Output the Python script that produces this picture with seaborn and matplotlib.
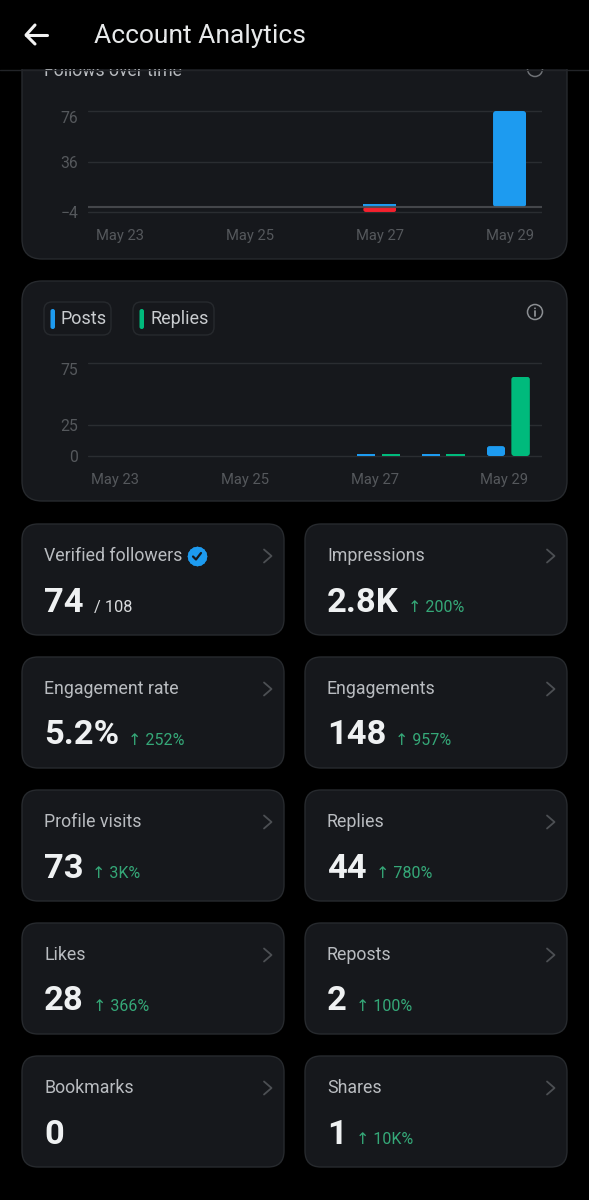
import matplotlib
matplotlib.use("Agg")
import matplotlib.pyplot as plt
import pandas as pd
import seaborn as sns
from matplotlib.patches import Circle, FancyBboxPatch, Rectangle
from matplotlib.transforms import Affine2D, IdentityTransform

W, H = 589, 1200

days = ["May 23", "May 24", "May 25", "May 26", "May 27", "May 28", "May 29"]
tick_days = ["May 23", "May 25", "May 27", "May 29"]

follows = [0, 0, 0, 0, 2, 0, 76]
unfollows = [0, 0, 0, 0, -4, 0, 0]
follow_ticks = [-4, 36, 76]

posts = [0, 0, 0, 0, 2, 2, 8]
replies = [0, 0, 0, 0, 2, 2, 64]
post_ticks = [0, 25, 75]

metric_titles = ["Verified followers", "Impressions", "Engagement rate", "Engagements",
                 "Profile visits", "Replies", "Likes", "Reposts", "Bookmarks", "Shares"]
metric_values = ["74", "2.8K", "5.2%", "148", "73", "44", "28", "2", "0", "1"]
metric_deltas = ["/ 108", "↑ 200%", "↑ 252%", "↑ 957%", "↑ 3K%", "↑ 780%", "↑ 366%", "↑ 100%", "", "↑ 10K%"]

BG = "#000000"
CARD = "#16181c"
BORDER = "#272a2e"
GRID = "#2a2d31"
BLUE = "#1d9bf0"
GREEN = "#00ba7c"
RED = "#f4212e"
TICK = "#55585c"
LABEL = "#b9bcc0"
DELTA = "#35a878"

sns.set_theme(style="dark", rc={"figure.facecolor": BG, "axes.facecolor": "none", "savefig.facecolor": BG})
plt.rcParams["font.family"] = ["Roboto", "DejaVu Sans"]

fig = plt.figure(figsize=(W / 100, H / 100), dpi=100)

ui = fig.add_axes([0, 0, 1, 1], zorder=0)
ui.set_xlim(0, W)
ui.set_ylim(H, 0)
ui.axis("off")


def rounded(x0, y0, x1, y1, r, fc, ec, z=1, lw=1.0):
    ui.add_patch(FancyBboxPatch((x0, y0), x1 - x0, y1 - y0, boxstyle="round,pad=0,rounding_size=%s" % r,
                                fc=fc, ec=ec, lw=lw, zorder=z))


def chart_axes(top, bottom):
    return fig.add_axes([88 / W, 1 - bottom / H, 454 / W, (bottom - top) / H], zorder=2)


def style_chart(ax, yticks, ylim, xlim, xshift, top_shift, pad):
    ax.set_xlim(*xlim)
    ax.set_ylim(*ylim)
    ax.set_xticks([days.index(d) for d in tick_days], tick_days)
    ax.set_yticks(yticks, [str(v).replace("-", "\u2212") for v in yticks])
    ax.set_xlabel("")
    ax.set_ylabel("")
    ax.tick_params(axis="x", length=0, pad=pad, labelsize=10.6, labelcolor=TICK)
    ax.tick_params(axis="y", length=0, pad=7, labelsize=11.3, labelcolor=TICK)
    ax.grid(axis="y", color=GRID, lw=1.0)
    ax.grid(axis="x", visible=False)
    ax.set_axisbelow(True)
    sns.despine(ax=ax, left=True, bottom=True)
    for lab in ax.get_xticklabels():
        lab.set_transform(lab.get_transform() + Affine2D().translate(xshift, 0))
    for lab in ax.get_yticklabels():
        if lab.get_text() == str(yticks[-1]):
            lab.set_transform(lab.get_transform() + Affine2D().translate(0, -top_shift))


def round_bars(ax, r):
    # round the seaborn bars by clipping them, keeps the real bar patches
    for bar in ax.patches:
        box = bar.get_window_extent()
        if box.height < 3:
            continue
        rr = min(r, box.height / 2)
        clip = FancyBboxPatch((box.x0, box.y0), box.width, box.height,
                              boxstyle="round,pad=0,rounding_size=%s" % rr)
        clip.set_transform(IdentityTransform())
        bar.set_clip_path(clip.get_path(), IdentityTransform())


# top card, runs under the header
rounded(22, 20, 567, 259, 20, CARD, BORDER)
ui.text(44, 71, "Follows over time", color=LABEL, fontsize=12.7, va="center", zorder=2)
ui.add_patch(Circle((535, 69), 7.5, fc="none", ec="#6f7276", lw=1.1, zorder=2))

ui.add_patch(Rectangle((0, 0), W, 69, fc=BG, ec="none", zorder=5))
ui.plot([0, W], [69.5, 69.5], color="#222428", lw=1, zorder=6)
ui.plot([26, 47], [35, 35], color="#f2f2f2", lw=2.2, zorder=6, solid_capstyle="round")
ui.plot([35, 26, 35], [25, 35, 44], color="#f2f2f2", lw=2.2, zorder=6, solid_capstyle="round")
ui.text(94, 36.5, "Account Analytics", color="#e7e9ea", fontsize=19, va="center", zorder=6)

ax1 = chart_axes(108.5, 214.5)
sns.barplot(x=days, y=follows, color=BLUE, saturation=1, width=0.51, linewidth=0, ax=ax1, zorder=3)
sns.barplot(x=days, y=unfollows, color=RED, saturation=1, width=0.51, linewidth=0, ax=ax1, zorder=3)
style_chart(ax1, follow_ticks, (-6, 78), (-0.5, 6.5), 0, 6, 10.5)
ax1.axhline(0, color="#4a4c50", lw=1.5, alpha=0.9, zorder=4)
round_bars(ax1, 3)

# second card
rounded(22, 281, 567, 501, 20, CARD, BORDER)
for x0, x1, name, col in [(44, 111, "Posts", BLUE), (133, 214, "Replies", GREEN)]:
    rounded(x0, 302, x1, 335, 8, CARD, BORDER, z=2)
    rounded(x0 + 6.5, 309, x0 + 11, 329, 2.2, col, "none", z=3)
    ui.text(x0 + 17, 319.5, name, color="#c9cccf", fontsize=13, va="center", zorder=3)
ui.add_patch(Circle((535, 312), 7.5, fc="none", ec="#8b8e92", lw=1.1, zorder=3))
ui.plot([535, 535], [311, 316], color="#8b8e92", lw=1.3, zorder=3)
ui.add_patch(Circle((535, 308.3), 0.9, fc="#8b8e92", ec="none", zorder=3))

activity = pd.DataFrame({
    "day": days * 2,
    "count": posts + replies,
    "series": ["Posts"] * len(days) + ["Replies"] * len(days),
})
ax2 = chart_axes(360.5, 458.5)
sns.barplot(data=activity, x="day", y="count", hue="series", palette=[BLUE, GREEN], saturation=1,
            width=0.76, gap=0.25, linewidth=0, legend=False, ax=ax2, zorder=3)
style_chart(ax2, post_ticks, (-2, 77), (-0.48, 6.52), -4, 6, 10.5)
round_bars(ax2, 3)

# metric cards
fig.canvas.draw()
renderer = fig.canvas.get_renderer()
for i, title in enumerate(metric_titles):
    col = i % 2
    row = i // 2
    x0 = 22 + col * 283
    y0 = 524 + row * 133
    rounded(x0, y0, x0 + 262, y0 + 111, 16, CARD, BORDER)
    ui.text(x0 + 22, y0 + 32, title, color=LABEL, fontsize=12.8, va="center", zorder=2)
    ui.plot([x0 + 242, x0 + 249.5, x0 + 242], [y0 + 25.5, y0 + 32, y0 + 38.5], color="#4c4f53", lw=1.3, zorder=2)
    val = ui.text(x0 + 22, y0 + 78.5, metric_values[i], color="#eff1f2", fontsize=24.8, fontweight="bold",
                  va="center", zorder=2)
    if metric_deltas[i]:
        end = val.get_window_extent(renderer).x1
        plain = metric_deltas[i].startswith("/")
        ui.text(end + (10 if plain else 9), y0 + 83.5, metric_deltas[i], color="#d9dbdd" if plain else DELTA,
                fontsize=11.8 if plain else 11.5, va="center", zorder=2)

# verified badge
ui.plot([197], [556], marker=(8, 0, 0), ms=14.5, color=BLUE, mew=0, zorder=3)
ui.plot([197], [556], marker=(8, 0, 22.5), ms=14.5, color=BLUE, mew=0, zorder=3)
ui.plot([193, 196, 201], [556.5, 559.5, 553], color=CARD, lw=1.6, zorder=4)

fig.savefig("out.png", dpi=100)
